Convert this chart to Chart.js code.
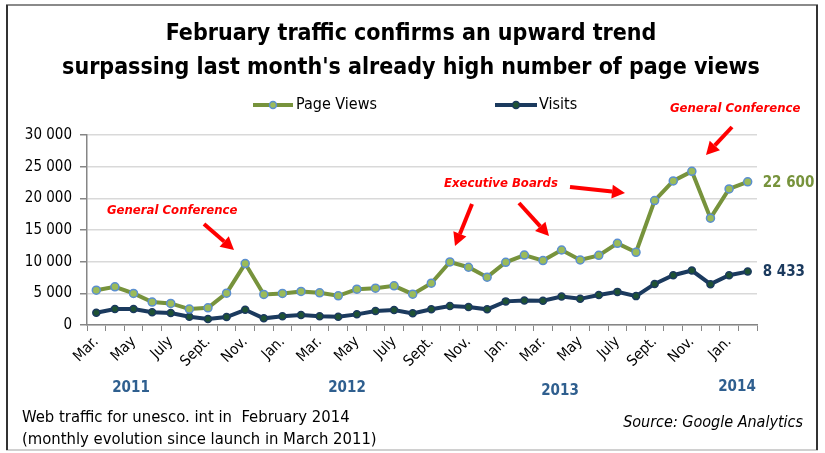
<!DOCTYPE html>
<html>
<head>
<meta charset="utf-8">
<script src="https://cdn.jsdelivr.net/npm/chart.js@4/dist/chart.umd.min.js"></script>
<style>
 html, body { margin: 0; padding: 0; background: #fff; }
 #trafficChart { display: block; }
</style>
</head>
<body>
<canvas id="trafficChart" width="825" height="453"></canvas>
<script>
// months from March 2011 to February 2014, every other one is labelled
var monthLabels = [
 "Mar.", "", "May", "", "July", "", "Sept.", "", "Nov.", "", "Jan.", "",
 "Mar.", "", "May", "", "July", "", "Sept.", "", "Nov.", "", "Jan.", "",
 "Mar.", "", "May", "", "July", "", "Sept.", "", "Nov.", "", "Jan.", ""
];

var pageViews = [
 5500, 6020, 4980, 3620, 3410, 2520, 2720, 5030, 9700, 4830, 4980, 5300,
 5080, 4610, 5660, 5820, 6180, 4870, 6600, 9950, 9120, 7550, 9900, 11050,
 10170, 11840, 10270, 11000, 12890, 11480, 19650, 22750, 24260, 16870, 21490, 22600
];

var visits = [
 1930, 2515, 2515, 2000, 1890, 1300, 945, 1260, 2400, 1050, 1370, 1570,
 1370, 1300, 1680, 2200, 2360, 1840, 2490, 2990, 2830, 2470, 3730, 3880,
 3820, 4510, 4130, 4740, 5230, 4560, 6490, 7860, 8600, 6450, 7860, 8433
];

var yearLabels = ["2011", "2012", "2013", "2014"];
var yearPos = [[131, 388], [347, 388], [560, 391], [737, 387]];

var titleLines = [
 "February traffic confirms an upward trend",
 "surpassing last month's already high number of page views"
];

var pvColor = "#77933C";
var visitColor = "#1B3A5E";
var font = "'Liberation Sans Narrow', 'DejaVu Sans Condensed', 'Open Sans', sans-serif";

function spaced(n) {
 return String(n).replace(/\B(?=(\d{3})+(?!\d))/g, " ");
}

function arrow(ctx, x1, y1, x2, y2) {
 var ang = Math.atan2(y2 - y1, x2 - x1);
 var head = 13;
 var bx = x2 - Math.cos(ang) * head;
 var by = y2 - Math.sin(ang) * head;
 ctx.save();
 ctx.strokeStyle = "#FF0000";
 ctx.fillStyle = "#FF0000";
 ctx.lineWidth = 4;
 ctx.beginPath();
 ctx.moveTo(x1, y1);
 ctx.lineTo(bx, by);
 ctx.stroke();
 ctx.beginPath();
 ctx.moveTo(x2, y2);
 ctx.lineTo(bx + Math.sin(ang) * 7, by - Math.cos(ang) * 7);
 ctx.lineTo(bx - Math.sin(ang) * 7, by + Math.cos(ang) * 7);
 ctx.closePath();
 ctx.fill();
 ctx.restore();
}

var decorations = {
 id: "decorations",
 afterDraw: function (chart) {
  var ctx = chart.ctx;
  var xs = chart.scales.x;
  var ys = chart.scales.y;
  ctx.save();

  // frame
  ctx.lineWidth = 2;
  ctx.strokeStyle = "#8A8A8A";
  ctx.beginPath(); ctx.moveTo(6, 5); ctx.lineTo(818, 5); ctx.stroke();
  ctx.strokeStyle = "#D0D0D0";
  ctx.beginPath(); ctx.moveTo(6, 450); ctx.lineTo(818, 450); ctx.stroke();
  ctx.strokeStyle = "#333";
  ctx.beginPath(); ctx.moveTo(7, 5); ctx.lineTo(7, 450); ctx.stroke();
  ctx.beginPath(); ctx.moveTo(817, 5); ctx.lineTo(817, 450); ctx.stroke();

  // title
  ctx.fillStyle = "#000";
  ctx.textAlign = "center";
  ctx.textBaseline = "middle";
  ctx.font = "bold 23px " + font;
  ctx.fillText(titleLines[0], 411, 34);
  ctx.fillText(titleLines[1], 411, 68);

  // legend
  ctx.lineWidth = 4;
  ctx.strokeStyle = pvColor;
  ctx.beginPath(); ctx.moveTo(253, 105); ctx.lineTo(293, 105); ctx.stroke();
  ctx.beginPath(); ctx.arc(273, 105, 3.5, 0, Math.PI * 2);
  ctx.fillStyle = "#9BBB59"; ctx.fill();
  ctx.lineWidth = 1.5; ctx.strokeStyle = "#5B8FD0"; ctx.stroke();
  ctx.lineWidth = 4;
  ctx.strokeStyle = visitColor;
  ctx.beginPath(); ctx.moveTo(495, 105); ctx.lineTo(537, 105); ctx.stroke();
  ctx.beginPath(); ctx.arc(516, 105, 3.5, 0, Math.PI * 2);
  ctx.fillStyle = "#1F5234"; ctx.fill();
  ctx.lineWidth = 1.5; ctx.strokeStyle = visitColor; ctx.stroke();
  ctx.fillStyle = "#000";
  ctx.textAlign = "left";
  ctx.font = "16px " + font;
  ctx.fillText("Page Views", 296, 105);
  ctx.fillText("Visits", 539, 105);

  // end labels, placed from the last data points
  var last = pageViews.length - 1;
  var lx = xs.getPixelForValue(last) + 15;
  ctx.font = "bold 15px " + font;
  ctx.fillStyle = pvColor;
  ctx.fillText(spaced(pageViews[last]), lx, ys.getPixelForValue(pageViews[last]) + 1);
  ctx.fillStyle = visitColor;
  ctx.fillText(spaced(visits[last]), lx, ys.getPixelForValue(visits[last]) + 1);

  // annotations
  ctx.fillStyle = "#FF0000";
  ctx.font = "italic bold 13px " + font;
  ctx.fillText("General Conference", 107, 211);
  ctx.fillText("Executive Boards", 444, 184);
  ctx.fillText("General Conference", 670, 109);
  arrow(ctx, 204, 224, 234, 250);
  arrow(ctx, 472, 204, 455, 246);
  arrow(ctx, 519, 203, 549, 236);
  arrow(ctx, 570, 187, 625, 193);
  arrow(ctx, 732, 127, 706, 155);

  // years
  ctx.fillStyle = "#2F5F8F";
  ctx.font = "bold 15px " + font;
  ctx.textAlign = "center";
  yearLabels.forEach(function (y, i) {
   ctx.fillText(y, yearPos[i][0], yearPos[i][1]);
  });

  // footnotes
  ctx.fillStyle = "#000";
  ctx.font = "16.5px " + font;
  ctx.textAlign = "left";
  ctx.fillText("Web traffic for unesco. int in  February 2014", 22, 418);
  ctx.fillText("(monthly evolution since launch in March 2011)", 22, 440);
  ctx.textAlign = "right";
  ctx.font = "italic 16px " + font;
  ctx.fillText("Source: Google Analytics", 803, 423);

  ctx.restore();
 }
};

new Chart(document.getElementById("trafficChart"), {
 type: "line",
 data: {
  labels: monthLabels,
  datasets: [
   {
    label: "Page Views",
    data: pageViews,
    borderColor: pvColor,
    borderWidth: 4,
    pointRadius: 4,
    pointBorderWidth: 1.5,
    pointBackgroundColor: "#9BBB59",
    pointBorderColor: "#5B8FD0",
    tension: 0,
   },
   {
    label: "Visits",
    data: visits,
    borderColor: visitColor,
    borderWidth: 4,
    pointRadius: 3.5,
    pointBorderWidth: 1.5,
    pointBackgroundColor: "#1F5234",
    pointBorderColor: visitColor,
    tension: 0,
   },
  ],
 },
 options: {
  responsive: false,
  animation: false,
  layout: {
   padding: { left: 0, right: 68, top: 135, bottom: 0 },
  },
  plugins: {
   legend: { display: false },
   title: { display: false },
   tooltip: { enabled: false },
  },
  scales: {
   x: {
    offset: true,
    afterFit: function (scale) {
     scale.height = 128;
    },
    grid: {
     offset: true,
     drawOnChartArea: false,
     drawTicks: true,
     tickLength: 6,
     tickColor: "#868686",
    },
    border: { color: "#868686", width: 1.5 },
    ticks: {
     autoSkip: false,
     maxRotation: 45,
     minRotation: 45,
     padding: 2,
     color: "#000",
     font: { family: font, size: 15 },
    },
   },
   y: {
    min: 0,
    max: 30000,
    afterFit: function (scale) {
     scale.width = 87;
    },
    ticks: {
     stepSize: 5000,
     padding: 8,
     color: "#000",
     font: { family: font, size: 15 },
     callback: function (v) {
      return spaced(v);
     },
    },
    grid: {
     color: "#D9D9D9",
     lineWidth: 1.5,
     tickLength: 7,
     tickColor: "#868686",
    },
    border: { color: "#868686", width: 1.5 },
   },
  },
 },
 plugins: [decorations],
});
</script>
</body>
</html>
